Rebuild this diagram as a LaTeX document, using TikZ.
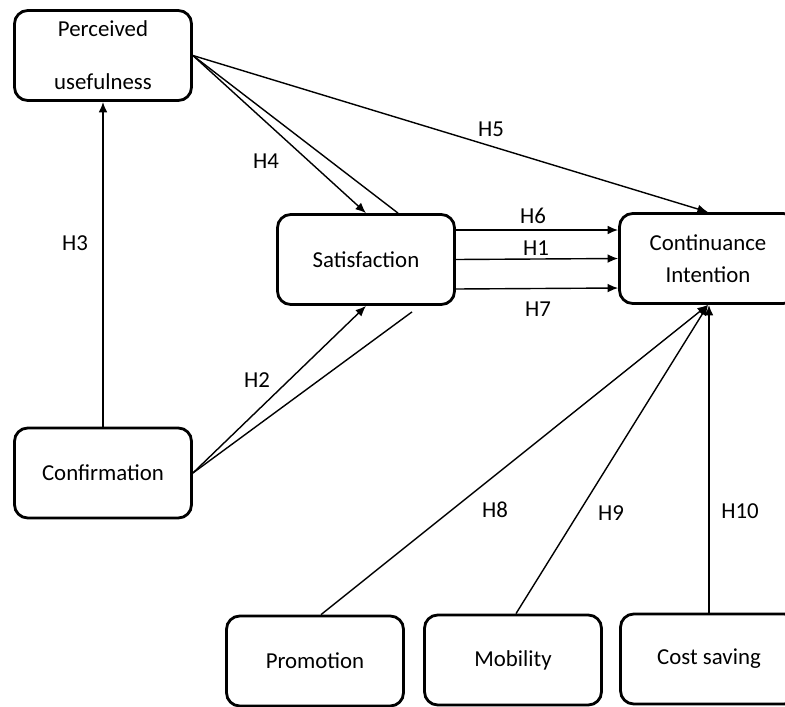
\documentclass[tikz,border=0pt]{standalone}
\usepackage{fontspec}
\setmainfont{Carlito}
\usetikzlibrary{arrows.meta,calc}

\begin{document}
\begin{tikzpicture}[x=0.02cm, y=-0.02cm, line width=0.8pt, >={Latex[length=6pt,width=5pt]},
	box/.style={draw, line width=1.6pt, rounded corners=7.5pt, minimum width=3.54cm, minimum height=1.8cm, align=center, font=\fontsize{13}{18}\selectfont},
	hyp/.style={font=\fontsize{13}{18}\selectfont}]
	\useasboundingbox (0,0) rectangle (785,707);
	% constructs
	\node[box] (pu) at (103,55.5) {Perceived\\[12pt]usefulness};
	\node[box] (sat) at (366,259.5) {Satisfaction};
	\node[box] (ci) at (708,258.5) {Continuance\\Intention};
	\node[box] (conf) at (103,473) {Confirmation};
	\node[box] (promo) at (315,661) {Promotion};
	\node[box] (mob) at (513,660) {Mobility};
	\node[box] (cost) at (709,659) {Cost saving};
	% paths
	\draw[->] (conf.north) -- (pu.south);
	\draw[->] (pu.east) -- (sat.north);
	\draw (pu.east) -- ($(sat.north)+(32,0)$);
	\draw[->] (pu.east) -- (ci.north);
	\draw[->] ($(sat.east)+(0,-29.5)$) -- ($(ci.west)+(0,-28.5)$);
	\draw[->] (sat.east) -- (ci.west);
	\draw[->] ($(sat.east)+(0,29.5)$) -- ($(ci.west)+(0,29.5)$);
	\draw[->] (conf.east) -- (sat.south);
	\draw (conf.east) -- ($(sat.south)+(46,6)$);
	\draw[->] ($(promo.north)+(6,0)$) -- (ci.south);
	\draw[->] ($(mob.north)+(3,0)$) -- (ci.south);
	\draw[->] (cost.north) -- (cost.north |- ci.south);
	% hypotheses
	\node[hyp] (h3) at (75,243) {H3};
	\node[hyp] (h4) at (266,161) {H4};
	\node[hyp] (h5) at (491,129) {H5};
	\node[hyp] (h6) at (533,216) {H6};
	\node[hyp] (h1) at (536,248) {H1};
	\node[hyp] (h7) at (538,309) {H7};
	\node[hyp] (h2) at (257,380) {H2};
	\node[hyp] (h8) at (495,510) {H8};
	\node[hyp] (h9) at (611,513) {H9};
	\node[hyp] (h10) at (740,511) {H10};
\end{tikzpicture}
\end{document}
